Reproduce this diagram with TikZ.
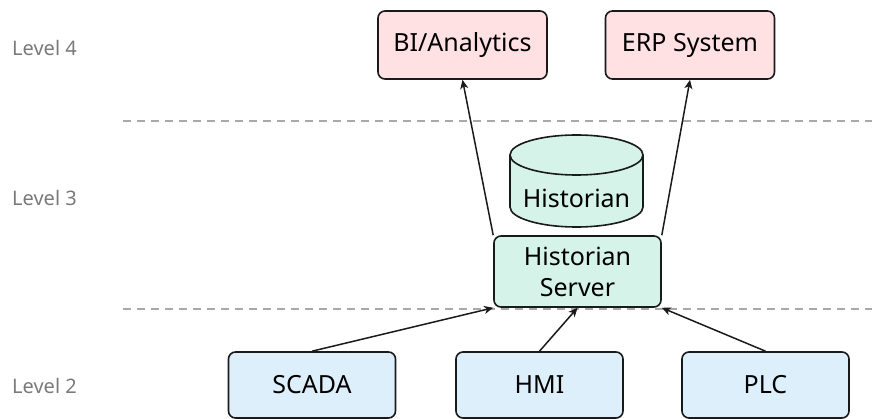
\documentclass[tikz,border=0pt]{standalone}
\usepackage{fontspec}
\setmainfont{Noto Sans}
\usetikzlibrary{arrows.meta}

\definecolor{apppink}{HTML}{FFE1E4}
\definecolor{histgreen}{HTML}{D6F3E9}
\definecolor{ctrlblue}{HTML}{DCEFFB}
\definecolor{outline}{HTML}{1A1A1A}
\definecolor{levelgray}{HTML}{7A7A7A}
\definecolor{zonegray}{HTML}{A8A8A8}

\begin{document}
\begin{tikzpicture}[x=1pt,y=-1pt,
  box/.style={draw=outline, line width=1.6pt, rounded corners=7pt,
    inner sep=0pt, align=center, font=\fontsize{25}{31}\selectfont},
  appbox/.style={box, fill=apppink, minimum width=169, minimum height=68},
  ctrlbox/.style={box, fill=ctrlblue, minimum width=167, minimum height=66},
  levellabel/.style={anchor=west, inner sep=0pt, text=levelgray,
    font=\fontsize{20}{24}\selectfont},
  zoneline/.style={draw=zonegray, line width=1.3pt, dash pattern=on 8pt off 6pt},
  flow/.style={draw=outline, line width=1.5pt,
    -{Stealth[length=9pt,width=8pt,inset=2.5pt]}}
]
\useasboundingbox (0,0) rectangle (872,419);

% zone boundaries
\coordinate (z1a) at (123,121);
\coordinate (z1b) at (872,121);
\coordinate (z2a) at (123,309);
\coordinate (z2b) at (872,309);
\draw[zoneline] (z1a) -- (z1b);
\draw[zoneline] (z2a) -- (z2b);

% level labels
\node[levellabel] (lv4) at (12,48) {Level 4};
\node[levellabel] (lv3) at (12,198) {Level 3};
\node[levellabel] (lv2) at (12,386) {Level 2};

% level 4 applications
\node[appbox] (bi) at (462.5,45) {BI/Analytics};
\node[appbox] (erp) at (690,45) {ERP System};

% historian database (cylinder)
\draw[draw=outline, line width=1.6pt, fill=histgreen]
  (510,155) -- (510,207) arc[start angle=180, end angle=0, x radius=66.5, y radius=20]
  -- (643,155) arc[start angle=0, end angle=-180, x radius=66.5, y radius=20] -- cycle;
\draw[draw=outline, line width=1.6pt]
  (510,155) arc[start angle=180, end angle=0, x radius=66.5, y radius=20];
\node[inner sep=0pt, font=\fontsize{25}{31}\selectfont] (db) at (576.5,198) {Historian};

% historian server
\node[box, fill=histgreen, minimum width=167, minimum height=71] (srv) at (577.5,271.5)
  {Historian\\Server};

% level 2 control systems
\node[ctrlbox] (scada) at (312,385) {SCADA};
\node[ctrlbox] (hmi) at (539.5,385) {HMI};
\node[ctrlbox] (plc) at (765.5,385) {PLC};

% data flows
\draw[flow] (srv.north west) -- (bi.south);
\draw[flow] (srv.north east) -- (erp.south);
\draw[flow] (scada.north) -- (srv.south west);
\draw[flow] (hmi.north) -- (srv.south);
\draw[flow] (plc.north) -- (srv.south east);
\end{tikzpicture}
\end{document}
